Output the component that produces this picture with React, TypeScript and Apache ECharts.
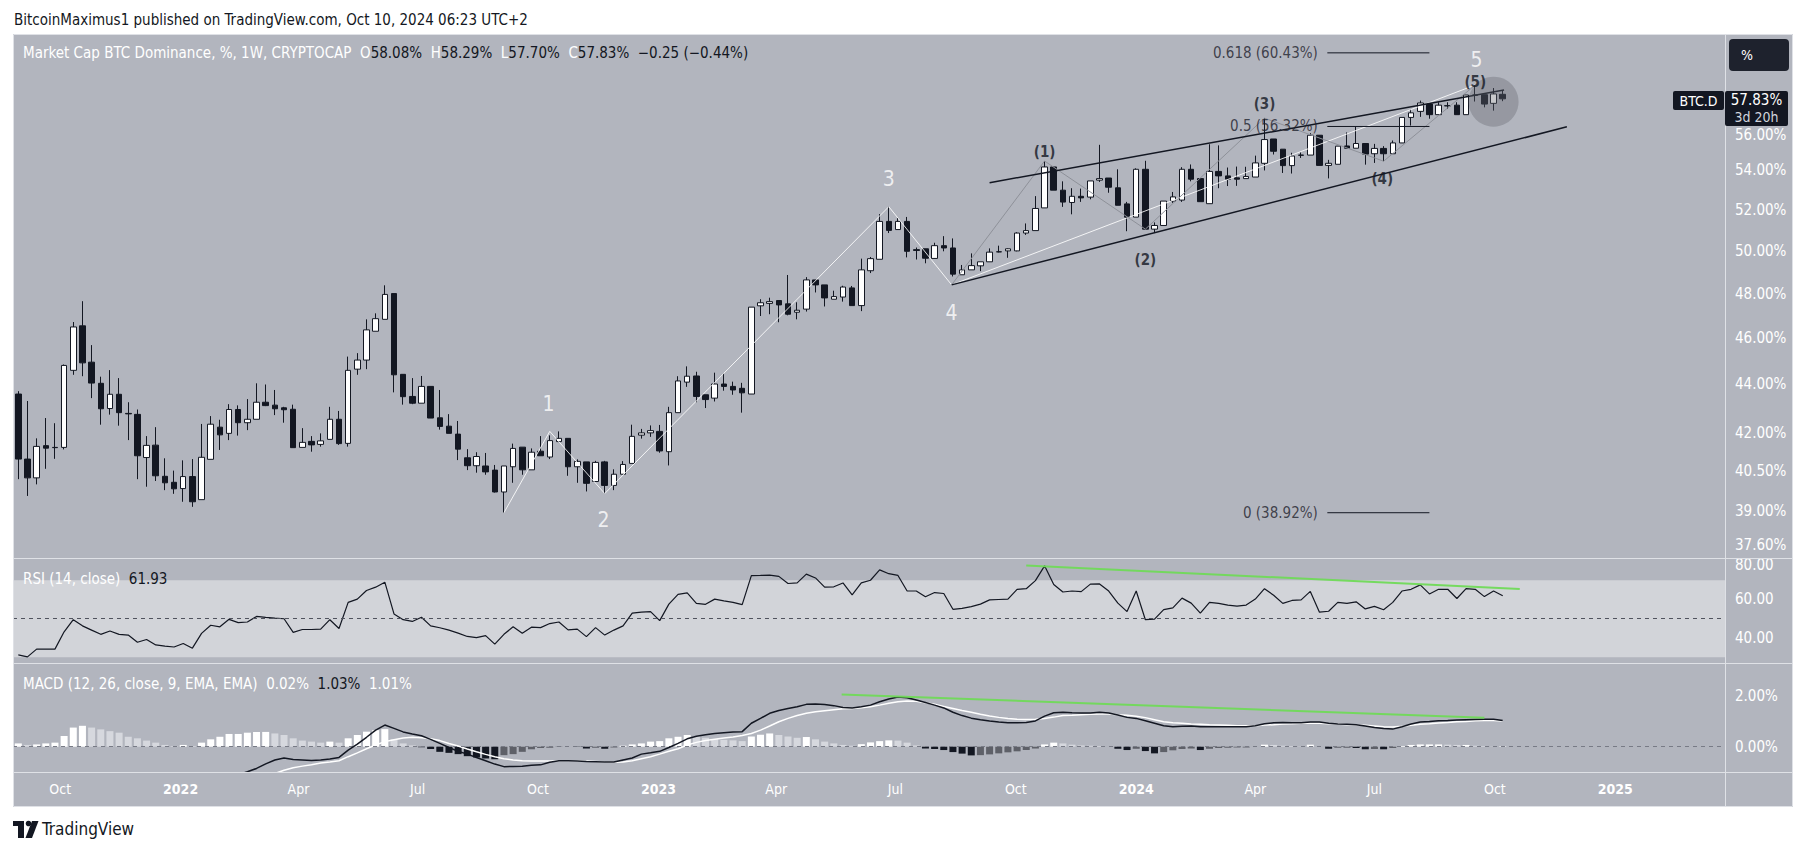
import React, { useEffect, useRef } from 'react';
import * as echarts from 'echarts';

// ---------- DATA ----------
const EPOCH = '2021-10-01';
const FIRST_WEEK = '2021-08-30';

// weekly candles: [open, high, low, close] in %
const ohlc: number[][] = [
  [43.60, 43.72, 40.19, 40.97], [40.97, 43.31, 39.55, 40.24], [40.24, 41.79, 39.99, 41.47], [41.50, 42.61, 40.59, 41.40],
  [41.43, 42.40, 40.98, 41.42], [41.43, 44.85, 41.35, 44.81], [44.60, 46.71, 44.41, 46.49], [46.54, 47.65, 44.35, 44.92],
  [44.95, 45.69, 43.43, 44.06], [44.05, 44.33, 42.34, 42.99], [43.00, 44.61, 42.75, 43.59], [43.59, 44.27, 42.30, 42.83],
  [42.80, 43.26, 41.72, 42.78], [42.76, 42.96, 40.19, 41.10], [41.03, 41.88, 39.90, 41.51], [41.52, 42.24, 40.12, 40.32],
  [40.30, 41.00, 39.77, 40.05], [40.07, 40.52, 39.63, 39.82], [39.83, 40.92, 39.33, 40.29], [40.29, 40.97, 39.14, 39.33],
  [39.41, 42.37, 39.41, 41.04], [40.96, 42.69, 40.96, 42.36], [42.24, 42.54, 41.33, 41.93], [41.99, 43.18, 41.72, 42.96],
  [42.96, 43.13, 41.90, 42.42], [42.42, 43.39, 42.12, 42.56], [42.56, 44.05, 42.56, 43.26], [43.26, 44.00, 43.10, 43.12],
  [43.14, 43.77, 42.73, 42.99], [43.03, 43.07, 42.42, 42.95], [42.97, 43.16, 41.42, 41.42], [41.43, 42.20, 41.43, 41.63],
  [41.67, 41.88, 41.26, 41.53], [41.55, 41.99, 41.46, 41.69], [41.75, 43.07, 41.75, 42.56], [42.56, 42.90, 41.53, 41.58],
  [41.59, 45.19, 41.46, 44.60], [44.65, 45.34, 44.41, 45.04], [45.04, 46.83, 44.65, 46.36], [46.30, 47.10, 46.30, 46.86],
  [46.83, 48.38, 46.83, 47.96], [48.00, 48.00, 43.67, 44.41], [44.43, 44.43, 43.16, 43.49], [43.50, 44.27, 43.18, 43.22],
  [43.22, 44.36, 43.22, 43.92], [43.92, 43.92, 42.61, 42.61], [42.62, 43.77, 42.14, 42.27], [42.28, 42.77, 41.99, 41.99],
  [41.96, 42.49, 40.93, 41.36], [41.02, 41.36, 40.54, 40.71], [40.71, 41.24, 40.44, 41.07], [40.70, 41.21, 40.36, 40.47],
  [40.54, 40.74, 39.68, 39.70], [39.70, 40.70, 38.92, 40.70], [40.67, 41.58, 40.05, 41.39], [41.44, 41.44, 40.36, 40.55],
  [40.55, 41.39, 40.55, 41.24], [41.28, 41.88, 41.10, 41.10], [41.05, 41.91, 40.97, 41.70], [41.66, 42.07, 41.66, 41.79],
  [41.79, 41.79, 40.32, 40.67], [40.67, 40.96, 40.05, 40.88], [40.86, 40.86, 39.72, 40.03], [40.10, 40.90, 40.10, 40.84],
  [40.86, 40.90, 39.64, 39.95], [39.95, 40.57, 39.77, 40.38], [40.38, 40.89, 40.38, 40.76], [40.80, 42.34, 40.80, 41.87],
  [41.92, 42.17, 41.78, 42.01], [42.01, 42.31, 41.85, 42.10], [42.07, 42.33, 41.22, 41.29], [41.26, 43.07, 40.72, 42.83],
  [42.83, 44.35, 42.83, 44.15], [44.10, 44.77, 43.90, 44.35], [44.36, 44.54, 43.26, 43.50], [43.57, 43.57, 43.02, 43.37],
  [43.43, 44.50, 43.29, 44.02], [44.02, 44.47, 43.74, 43.92], [43.92, 44.12, 43.57, 43.77], [43.84, 44.07, 42.83, 43.65],
  [43.60, 47.38, 43.60, 47.38], [47.44, 47.74, 46.98, 47.58], [47.55, 47.81, 47.06, 47.63], [47.68, 47.68, 46.70, 47.48],
  [47.53, 48.86, 47.01, 47.06], [47.15, 47.60, 46.83, 47.24], [47.29, 48.76, 47.18, 48.63], [48.63, 48.63, 48.05, 48.40],
  [48.40, 48.40, 47.41, 47.80], [47.74, 48.13, 47.74, 47.86], [47.84, 48.36, 47.63, 48.30], [48.26, 48.35, 47.45, 47.45],
  [47.45, 49.63, 47.20, 49.10], [49.06, 49.71, 48.95, 49.63], [49.60, 51.79, 49.60, 51.43], [51.43, 52.16, 50.86, 50.99],
  [51.03, 51.60, 51.03, 51.43], [51.43, 51.65, 49.69, 49.98], [50.06, 50.16, 49.59, 50.02], [50.10, 50.10, 49.41, 49.65],
  [49.64, 50.39, 49.64, 50.25], [50.25, 50.71, 49.98, 50.14], [50.14, 50.60, 48.79, 48.90], [48.87, 49.33, 48.87, 49.10],
  [49.10, 49.88, 49.10, 49.30], [49.29, 49.48, 49.04, 49.48], [49.48, 50.12, 49.48, 49.94], [49.95, 50.25, 49.93, 49.96],
  [50.00, 50.12, 49.67, 50.10], [50.00, 50.90, 49.98, 50.86], [50.86, 51.33, 50.77, 50.98], [50.98, 52.69, 50.98, 52.07],
  [52.10, 54.49, 52.10, 54.18], [54.18, 54.18, 52.99, 52.99], [52.99, 53.44, 52.15, 52.39], [52.37, 53.09, 51.78, 52.68],
  [52.68, 53.07, 52.40, 52.60], [52.64, 53.46, 52.53, 53.46], [53.50, 55.34, 53.41, 53.58], [53.61, 53.61, 52.86, 53.14],
  [53.11, 54.06, 52.23, 52.23], [52.30, 52.40, 50.95, 51.64], [51.64, 54.11, 51.64, 54.06], [54.06, 54.50, 51.05, 51.05],
  [51.05, 51.38, 50.86, 51.23], [51.23, 52.44, 51.23, 52.44], [52.44, 52.90, 52.35, 52.65], [52.49, 54.17, 52.40, 54.06],
  [54.06, 54.31, 53.44, 53.55], [53.58, 53.58, 52.41, 52.41], [52.31, 55.37, 52.31, 53.95], [53.95, 55.31, 53.09, 53.72],
  [53.72, 54.15, 53.20, 53.55], [53.62, 54.20, 53.21, 53.55], [53.58, 54.19, 53.58, 53.69], [53.66, 54.77, 53.66, 54.39],
  [54.37, 56.77, 54.00, 55.62], [55.65, 55.65, 54.83, 55.00], [55.11, 55.11, 53.87, 54.25], [54.25, 54.92, 53.84, 54.75],
  [54.80, 54.94, 54.65, 54.79], [54.80, 55.96, 54.80, 55.85], [55.85, 55.85, 54.26, 54.26], [54.26, 54.55, 53.59, 54.37],
  [54.32, 55.27, 54.32, 55.27], [55.28, 56.00, 55.16, 55.16], [55.16, 56.33, 55.16, 55.41], [55.41, 55.41, 54.30, 54.85],
  [54.87, 55.39, 54.39, 55.15], [55.15, 55.27, 54.48, 54.87], [54.87, 55.57, 54.87, 55.44], [55.44, 56.81, 55.44, 56.81],
  [56.81, 57.25, 56.37, 57.06], [57.14, 57.73, 56.84, 57.60], [57.54, 57.62, 56.74, 56.96], [56.96, 57.64, 56.96, 57.48],
  [57.45, 57.64, 57.27, 57.44], [57.48, 57.64, 56.96, 56.96], [56.96, 58.04, 56.96, 58.04], [58.04, 58.60, 57.68, 58.03],
  [58.06, 58.06, 57.36, 57.54], [57.58, 58.43, 57.18, 58.10], [58.08, 58.29, 57.70, 57.83],
];

const rsi: number[] = [
  31.2, 30.2, 34.2, 34.2, 34.2, 43.2, 49.5, 46.3, 44.1, 41.9,
  43.6, 41.9, 41.5, 37.8, 39.2, 36.4, 35.8, 35.3, 37.1, 34.7,
  42.4, 46.6, 45.8, 49.7, 48.0, 48.3, 51.2, 50.7, 50.3, 50.0,
  42.9, 44.4, 44.4, 44.6, 49.5, 44.9, 58.5, 60.2, 64.7, 66.4,
  69.0, 52.5, 49.5, 48.6, 50.8, 46.3, 45.3, 44.1, 42.5, 40.8,
  40.2, 41.2, 36.8, 41.9, 45.8, 42.4, 45.6, 45.4, 47.5, 48.3,
  44.2, 44.6, 40.7, 45.4, 41.5, 44.1, 46.3, 52.9, 53.4, 53.7,
  49.0, 57.6, 62.7, 63.4, 58.0, 57.5, 60.2, 59.3, 58.5, 57.3,
  72.4, 72.5, 72.7, 72.0, 68.3, 68.6, 73.2, 71.2, 66.4, 66.6,
  68.6, 62.4, 68.6, 70.0, 75.4, 73.4, 72.5, 64.4, 64.4, 61.4,
  63.6, 63.1, 54.9, 55.4, 56.3, 57.6, 59.8, 60.0, 60.2, 65.3,
  65.6, 69.8, 77.5, 67.8, 63.9, 64.4, 64.1, 68.0, 68.1, 64.4,
  58.1, 53.7, 64.4, 49.5, 49.8, 54.7, 55.6, 60.7, 58.1, 52.9,
  58.5, 58.0, 57.1, 56.6, 57.1, 60.2, 65.6, 62.2, 58.0, 59.5,
  59.8, 64.2, 53.4, 53.9, 58.5, 58.0, 58.8, 55.1, 56.4, 54.7,
  58.5, 64.4, 65.3, 67.6, 62.9, 65.3, 65.3, 60.5, 65.6, 65.3,
  61.5, 64.4, 61.93,
];

const macdLine: (number | null)[] = [
  null, null, null, null, null, null, null, null, null, null,
  null, null, null, null, null, null, null, null, null, null,
  null, null, -1.40, -1.25, -1.10, -0.98, -0.85, -0.67, -0.52, -0.44,
  -0.50, -0.52, -0.54, -0.52, -0.48, -0.42, -0.13, 0.10, 0.37, 0.65,
  0.85, 0.72, 0.58, 0.50, 0.43, 0.29, 0.13, -0.03, -0.18, -0.29,
  -0.42, -0.55, -0.68, -0.78, -0.77, -0.76, -0.73, -0.71, -0.61, -0.55,
  -0.55, -0.56, -0.58, -0.59, -0.60, -0.60, -0.52, -0.44, -0.29, -0.24,
  -0.18, -0.03, 0.13, 0.31, 0.41, 0.47, 0.52, 0.55, 0.58, 0.59,
  0.92, 1.11, 1.31, 1.42, 1.50, 1.57, 1.66, 1.67, 1.65, 1.61,
  1.54, 1.52, 1.57, 1.63, 1.76, 1.87, 1.95, 1.92, 1.83, 1.73,
  1.63, 1.52, 1.35, 1.22, 1.12, 1.06, 1.01, 0.97, 0.94, 0.94,
  0.95, 1.01, 1.20, 1.33, 1.35, 1.33, 1.32, 1.32, 1.35, 1.32,
  1.24, 1.15, 1.11, 1.02, 0.92, 0.82, 0.78, 0.80, 0.81, 0.78,
  0.78, 0.78, 0.78, 0.78, 0.78, 0.82, 0.90, 0.94, 0.95, 0.94,
  0.94, 0.97, 0.97, 0.92, 0.89, 0.88, 0.86, 0.81, 0.75, 0.71,
  0.69, 0.78, 0.89, 0.97, 0.99, 1.02, 1.03, 1.05, 1.06, 1.07,
  1.08, 1.08, 1.03,
];

const signalLine: (number | null)[] = [
  null, null, null, null, null, null, null, null, null, null,
  null, null, null, null, null, null, null, null, null, null,
  null, null, null, null, null, -1.50, -1.35, -1.20, -1.05, -0.92,
  -0.82, -0.76, -0.71, -0.64, -0.60, -0.55, -0.39, -0.24, -0.08, 0.07,
  0.20, 0.27, 0.34, 0.37, 0.35, 0.31, 0.24, 0.13, 0.03, -0.09,
  -0.20, -0.30, -0.39, -0.47, -0.52, -0.55, -0.56, -0.56, -0.56, -0.55,
  -0.55, -0.55, -0.56, -0.58, -0.60, -0.61, -0.60, -0.55, -0.47, -0.39,
  -0.29, -0.18, -0.08, 0.07, 0.17, 0.24, 0.29, 0.34, 0.38, 0.44,
  0.52, 0.65, 0.81, 0.98, 1.11, 1.22, 1.31, 1.37, 1.41, 1.45,
  1.49, 1.50, 1.53, 1.57, 1.63, 1.70, 1.76, 1.79, 1.78, 1.72,
  1.66, 1.58, 1.50, 1.42, 1.35, 1.27, 1.20, 1.15, 1.11, 1.08,
  1.07, 1.08, 1.11, 1.16, 1.22, 1.23, 1.25, 1.27, 1.28, 1.28,
  1.25, 1.23, 1.19, 1.14, 1.06, 0.98, 0.94, 0.92, 0.89, 0.88,
  0.86, 0.85, 0.84, 0.82, 0.82, 0.82, 0.85, 0.86, 0.89, 0.90,
  0.92, 0.92, 0.92, 0.90, 0.89, 0.86, 0.85, 0.84, 0.81, 0.78,
  0.77, 0.80, 0.84, 0.88, 0.90, 0.93, 0.95, 0.98, 0.99, 1.02,
  1.03, 1.03, 1.01,
];

const macdHist: number[] = [
  0.13, 0.07, 0.09, 0.13, 0.16, 0.42, 0.75, 0.82, 0.75, 0.68,
  0.61, 0.55, 0.39, 0.33, 0.24, 0.16, 0.07, 0.03, 0.07, 0.03,
  0.16, 0.29, 0.39, 0.50, 0.50, 0.55, 0.58, 0.58, 0.52, 0.46,
  0.33, 0.24, 0.20, 0.16, 0.20, 0.16, 0.33, 0.46, 0.59, 0.65,
  0.69, 0.29, 0.13, 0.05, -0.02, -0.09, -0.20, -0.24, -0.29, -0.37,
  -0.42, -0.46, -0.49, -0.33, -0.29, -0.20, -0.10, -0.05, -0.04, -0.01,
  0.00, -0.01, -0.07, -0.04, -0.08, -0.03, 0.04, 0.09, 0.13, 0.20,
  0.22, 0.33, 0.39, 0.46, 0.42, 0.35, 0.30, 0.27, 0.25, 0.22,
  0.40, 0.47, 0.52, 0.46, 0.40, 0.35, 0.38, 0.29, 0.20, 0.13,
  0.07, 0.04, 0.10, 0.17, 0.22, 0.25, 0.24, 0.16, 0.05, -0.07,
  -0.09, -0.13, -0.21, -0.27, -0.34, -0.33, -0.30, -0.26, -0.22, -0.18,
  -0.13, -0.07, 0.09, 0.16, 0.13, 0.08, 0.05, 0.04, 0.03, 0.00,
  -0.08, -0.13, -0.08, -0.17, -0.26, -0.21, -0.14, -0.09, -0.07, -0.13,
  -0.08, -0.05, -0.04, -0.03, -0.03, 0.00, 0.08, 0.07, 0.04, 0.03,
  0.01, 0.08, 0.00, -0.08, -0.04, -0.04, -0.05, -0.10, -0.09, -0.10,
  -0.05, 0.03, 0.07, 0.09, 0.09, 0.09, 0.08, 0.07, 0.07, 0.04,
  0.03, 0.01, 0.02,
];

const timeTicks: [string, string][] = [
  ['2021-10-01', 'Oct'], ['2022-01-01', '2022'], ['2022-04-01', 'Apr'], ['2022-07-01', 'Jul'],
  ['2022-10-01', 'Oct'], ['2023-01-01', '2023'], ['2023-04-01', 'Apr'], ['2023-07-01', 'Jul'],
  ['2023-10-01', 'Oct'], ['2024-01-01', '2024'], ['2024-04-01', 'Apr'], ['2024-07-01', 'Jul'],
  ['2024-10-01', 'Oct'], ['2025-01-01', '2025'],
];
const priceTicks = [56, 54, 52, 50, 48, 46, 44, 42, 40.5, 39, 37.6];
const rsiTicks = [80, 60, 40];
const macdTicks = [2, 0];

// drawings (date, value)
const channelUpper: [string, number][] = [['2023-09-11', 53.37], ['2024-10-08', 58.32]];
const channelLower: [string, number][] = [['2023-08-13', 48.4], ['2024-11-25', 56.3]];
const majorWave: [string, number][] = [
  ['2022-09-05', 38.92], ['2022-10-10', 42.07], ['2022-11-21', 39.64],
  ['2023-06-26', 52.16], ['2023-08-13', 48.4], ['2024-09-16', 58.6],
];
const minorWave: [string, number][] = [
  ['2023-08-13', 48.4], ['2023-10-23', 54.49], ['2024-01-08', 51.05],
  ['2024-04-08', 56.77], ['2024-07-08', 54.48], ['2024-09-16', 58.6],
];
const majorLabels: [string, string, number][] = [
  ['1', '2022-10-09', 43.17], ['2', '2022-11-20', 38.65], ['3', '2023-06-26', 53.55],
  ['4', '2023-08-13', 47.1], ['5', '2024-09-17', 60.02],
];
const minorLabels: [string, string, number][] = [
  ['(1)', '2023-10-23', 54.95], ['(2)', '2024-01-08', 49.56], ['(3)', '2024-04-08', 57.57],
  ['(4)', '2024-07-07', 53.58], ['(5)', '2024-09-16', 58.77],
];
const fibLevels: [string, number][] = [['0.618', 60.43], ['0.5', 56.32], ['0', 38.92]];
const fibSpan: [string, string] = ['2024-05-26', '2024-08-12'];
const focusCircle: [string, number] = ['2024-09-30', 57.67];
const rsiDivergence: [string, number][] = [['2023-10-09', 77.6], ['2024-10-20', 65.5]];
const macdDivergence: [string, number][] = [['2023-05-21', 2.05], ['2024-09-23', 1.14]];

// ---------- HELPERS ----------
const FONT = '"Liberation Sans Narrow", "Arial Narrow", "DejaVu Sans Condensed", "Liberation Sans", sans-serif';
const DARK = '#131722';
const ln = Math.log;
const toDay = (s: string) => (Date.parse(s) - Date.parse(EPOCH)) / 86400000;
const weekDays = ohlc.map((_, i) => toDay(FIRST_WEEK) + 7 * i);

const X_MIN = -36.05;
const X_MAX = 1271.8;

function buildOption(): any {
  const tickLabel = new Map<number, string>(timeTicks.map(([d, l]) => [toDay(d), l]));

  const xAxis = [0, 1, 2].map((g) => ({
    type: 'value',
    gridIndex: g,
    min: X_MIN,
    max: X_MAX,
    axisLine: { show: false },
    axisTick: { show: false },
    splitLine: { show: false },
    axisLabel:
      g === 2
        ? {
            show: true,
            customValues: timeTicks.map(([d]) => toDay(d)),
            margin: 10,
            color: '#ffffff',
            fontSize: 14,
            fontFamily: FONT,
            formatter: (v: number) => {
              const t = tickLabel.get(Math.round(v)) || '';
              return /^\d{4}$/.test(t) ? `{y|${t}}` : t;
            },
            rich: { y: { fontWeight: 'bold', color: '#ffffff', fontSize: 14, fontFamily: FONT } },
          }
        : { show: false },
  }));

  const yLabel = (vals: number[], fmt: (v: number) => string, rich: any = {}) => ({
    show: true,
    customValues: vals,
    formatter: fmt,
    color: '#ffffff',
    fontSize: 15,
    fontFamily: FONT,
    margin: 10,
    rich,
  });
  const edgeRich = {
    lo: { color: '#ffffff', fontSize: 15, fontFamily: FONT, padding: [0, 0, 7, 0] },
    hi: { color: '#ffffff', fontSize: 15, fontFamily: FONT, padding: [7, 0, 0, 0] },
    dn: { color: '#ffffff', fontSize: 15, fontFamily: FONT, padding: [6, 0, 0, 0] },
  };
  const priceFmt = (v: number) => {
    const p = Math.exp(v);
    const s = p.toFixed(2) + '%';
    if (Math.abs(p - priceTicks[priceTicks.length - 1]) < 1e-6) return `{lo|${s}}`;
    if (Math.abs(p - priceTicks[0]) < 1e-6) return `{dn|${s}}`;
    return s;
  };

  const yAxis = [
    {
      type: 'value', gridIndex: 0, position: 'right',
      min: ln(37.27), max: ln(61.53),
      axisLine: { show: false }, axisTick: { show: false }, splitLine: { show: false },
      axisLabel: yLabel(priceTicks.map(ln), priceFmt, edgeRich),
    },
    {
      type: 'value', gridIndex: 1, position: 'right', min: 27.0, max: 81.56,
      axisLine: { show: false }, axisTick: { show: false }, splitLine: { show: false },
      axisLabel: yLabel(rsiTicks, (v) => (v === rsiTicks[0] ? `{hi|${v.toFixed(2)}}` : v.toFixed(2)), edgeRich),
    },
    {
      type: 'value', gridIndex: 2, position: 'right', min: -0.99, max: 3.28,
      axisLine: { show: false }, axisTick: { show: false }, splitLine: { show: false },
      axisLabel: yLabel(macdTicks, (v) => v.toFixed(2) + '%'),
    },
  ];

  const grid = [
    { left: 13, top: 34, width: 1712, height: 524, outerBoundsMode: 'none' },
    { left: 13, top: 558, width: 1712, height: 105, outerBoundsMode: 'none' },
    { left: 13, top: 663, width: 1712, height: 109, outerBoundsMode: 'none' },
  ];

  const pricePts = (arr: [string, number][]) => arr.map(([d, p]) => [toDay(d), ln(p)]);
  const plainPts = (arr: [string, number][]) => arr.map(([d, v]) => [toDay(d), v]);
  const drawLine = (data: number[][], color: string, width: number, gi: number, z = 5) => ({
    type: 'line', xAxisIndex: gi, yAxisIndex: gi, data, symbol: 'none', silent: true, z,
    lineStyle: { color, width }, clip: true,
  });

  const histData = macdHist.map((v, i) => {
    const prev = i > 0 ? macdHist[i - 1] : v;
    let color: string;
    if (v >= 0) color = v >= prev ? '#ffffff' : '#d6d8de';
    else color = v < prev ? DARK : '#5e6068';
    return { value: [weekDays[i], v], itemStyle: { color } };
  });

  const labelSeries = (items: [string, string, number][], style: any) => ({
    type: 'scatter', xAxisIndex: 0, yAxisIndex: 0, symbolSize: 1, silent: true, z: 12,
    itemStyle: { color: 'rgba(0,0,0,0)' },
    data: items.map(([t, d, p]) => ({ name: t, value: [toDay(d), ln(p)] })),
    label: { show: true, position: 'inside', formatter: '{b}', fontFamily: FONT, ...style },
  });

  const series: any[] = [
    {
      type: 'candlestick', xAxisIndex: 0, yAxisIndex: 0, barWidth: 6, z: 3,
      encode: { x: 0, y: [1, 2, 3, 4] },
      data: ohlc.map((r, i) => [weekDays[i], ln(r[0]), ln(r[3]), ln(r[2]), ln(r[1])]),
      itemStyle: { color: '#ffffff', color0: DARK, borderColor: DARK, borderColor0: DARK, borderWidth: 1 },
    },
    drawLine(pricePts(majorWave), 'rgba(255,255,255,0.85)', 1, 0, 4),
    drawLine(pricePts(minorWave), '#8e9199', 1, 0, 4),
    drawLine(pricePts(channelUpper), DARK, 1.5, 0, 6),
    drawLine(pricePts(channelLower), DARK, 1.5, 0, 6),
    ...fibLevels.map(([, v]) => drawLine([[toDay(fibSpan[0]), ln(v)], [toDay(fibSpan[1]), ln(v)]], DARK, 1, 0, 6)),
    {
      type: 'scatter', xAxisIndex: 0, yAxisIndex: 0, symbolSize: 1, silent: true, z: 12,
      itemStyle: { color: 'rgba(0,0,0,0)' },
      data: fibLevels.map(([n, v]) => ({ name: `${n} (${v.toFixed(2)}%)`, value: [toDay(fibSpan[0]), ln(v)] })),
      label: { show: true, position: 'left', distance: 9, formatter: '{b}', color: '#1e222d', fontSize: 15, fontFamily: FONT },
    },
    {
      type: 'scatter', xAxisIndex: 0, yAxisIndex: 0, symbolSize: 50, silent: true, z: 8,
      itemStyle: { color: 'rgba(100,103,112,0.45)' },
      data: [[toDay(focusCircle[0]), ln(focusCircle[1])]],
    },
    labelSeries(majorLabels, { color: '#ffffff', fontSize: 21 }),
    labelSeries(minorLabels, { color: DARK, fontSize: 15, fontWeight: 'bold' }),
    // RSI
    {
      type: 'line', xAxisIndex: 1, yAxisIndex: 1, symbol: 'none', silent: true, z: 4,
      data: rsi.map((v, i) => [weekDays[i], v]),
      lineStyle: { color: DARK, width: 1.2 },
      markArea: {
        silent: true,
        itemStyle: { color: 'rgba(255,255,255,0.42)' },
        data: [[{ yAxis: 30 }, { yAxis: 70 }]],
      },
      markLine: {
        silent: true, symbol: ['none', 'none'], label: { show: false },
        lineStyle: { type: [4, 4], color: '#50535e', width: 1 },
        data: [{ yAxis: 50 }],
      },
    },
    drawLine(plainPts(rsiDivergence), 'rgba(112,218,88,0.95)', 2, 1, 5),
    // MACD
    {
      type: 'bar', xAxisIndex: 2, yAxisIndex: 2, barWidth: 7, silent: true, z: 2,
      data: histData,
      markLine: {
        silent: true, symbol: ['none', 'none'], label: { show: false },
        lineStyle: { type: [4, 4], color: '#787b86', width: 1 },
        data: [{ yAxis: 0 }],
      },
    },
    {
      type: 'line', xAxisIndex: 2, yAxisIndex: 2, symbol: 'none', silent: true, z: 4,
      data: signalLine.map((v, i) => [weekDays[i], v]),
      lineStyle: { color: '#ffffff', width: 1.5 },
    },
    {
      type: 'line', xAxisIndex: 2, yAxisIndex: 2, symbol: 'none', silent: true, z: 5,
      data: macdLine.map((v, i) => [weekDays[i], v]),
      lineStyle: { color: DARK, width: 1.5 },
    },
    drawLine(plainPts(macdDivergence), 'rgba(112,218,88,0.95)', 2, 2, 6),
  ];

  const sep = (x1: number, y1: number, x2: number, y2: number) => ({
    type: 'line', silent: true, z: 50,
    shape: { x1, y1, x2, y2 },
    style: { stroke: '#dfe1e6', lineWidth: 1 },
  });
  const txt = (x: number, y: number, text: string, extra: any = {}) => ({
    type: 'text', x, y, silent: true, z: 60,
    style: { text, fill: '#ffffff', fontSize: 15, fontFamily: FONT, textVerticalAlign: 'middle', ...extra },
  });
  const legendRich = {
    w: { fill: '#ffffff', fontSize: 15, fontFamily: FONT },
    d: { fill: DARK, fontSize: 15, fontFamily: FONT },
  };

  const graphic: any[] = [
    sep(13, 558.5, 1793, 558.5),
    sep(13, 663.5, 1793, 663.5),
    sep(13, 772.5, 1793, 772.5),
    sep(1725.5, 34, 1725.5, 807),
    {
      type: 'rect', silent: true, z: 50,
      shape: { x: 13.5, y: 34.5, width: 1779, height: 772 },
      style: { fill: 'none', stroke: '#dfe1e6', lineWidth: 1 },
    },
    txt(14, 20, 'BitcoinMaximus1 published on TradingView.com, Oct 10, 2024 06:23 UTC+2', { fill: DARK, fontSize: 15 }),
    txt(23, 53,
      '{w|Market Cap BTC Dominance, %, 1W, CRYPTOCAP}  {w|O}{d|58.08%}  {w|H}{d|58.29%}  {w|L}{d|57.70%}  {w|C}{d|57.83%}  {d|\u22120.25 (\u22120.44%)}',
      { rich: legendRich }),
    txt(23, 579, '{w|RSI (14, close)}  {d|61.93}', { rich: legendRich }),
    txt(23, 684, '{w|MACD (12, 26, close, 9, EMA, EMA)}  {w|0.02%}  {d|1.03%}  {w|1.01%}', { rich: legendRich }),
    // % button
    { type: 'rect', silent: true, z: 60, shape: { x: 1729, y: 39, width: 60, height: 32, r: 4 }, style: { fill: '#1e222d' } },
    txt(1741, 55, '%', { fontSize: 14 }),
    // price tags
    { type: 'rect', silent: true, z: 60, shape: { x: 1673, y: 91, width: 51, height: 19, r: 2 }, style: { fill: DARK } },
    txt(1698.5, 100.5, 'BTC.D', { textAlign: 'center', fontSize: 14 }),
    { type: 'rect', silent: true, z: 60, shape: { x: 1725, y: 91, width: 63, height: 35, r: 2 }, style: { fill: DARK } },
    txt(1756.5, 100, '57.83%', { textAlign: 'center' }),
    txt(1756.5, 116.5, '3d 20h', { textAlign: 'center', fill: '#d1d4dc', fontSize: 14 }),
    // TradingView logo
    { type: 'rect', silent: true, z: 60, shape: { x: 13, y: 821, width: 11, height: 5 }, style: { fill: DARK } },
    { type: 'rect', silent: true, z: 60, shape: { x: 18, y: 821, width: 6, height: 17 }, style: { fill: DARK } },
    { type: 'circle', silent: true, z: 60, shape: { cx: 28.5, cy: 823.5, r: 2.8 }, style: { fill: DARK } },
    { type: 'polygon', silent: true, z: 60, shape: { points: [[32, 821], [38.5, 821], [32, 838], [25.5, 838]] }, style: { fill: DARK } },
    txt(42, 829, 'TradingView', { fill: DARK, fontSize: 17 }),
  ];

  return { animation: false, grid, xAxis, yAxis, series, graphic };
}

export default function App() {
  const ref = useRef<HTMLDivElement>(null);
  useEffect(() => {
    if (!ref.current) return;
    const chart = echarts.init(ref.current, undefined, { renderer: 'svg' });
    chart.setOption(buildOption());
    return () => chart.dispose();
  }, []);
  return (
    <div style={{ position: 'fixed', left: 0, top: 0, width: 1807, height: 851, background: '#ffffff' }}>
      <div style={{ position: 'absolute', left: 13, top: 34, width: 1780, height: 773, background: '#b2b5be' }} />
      <div ref={ref} style={{ position: 'absolute', left: 0, top: 0, width: 1807, height: 851 }} />
    </div>
  );
}
